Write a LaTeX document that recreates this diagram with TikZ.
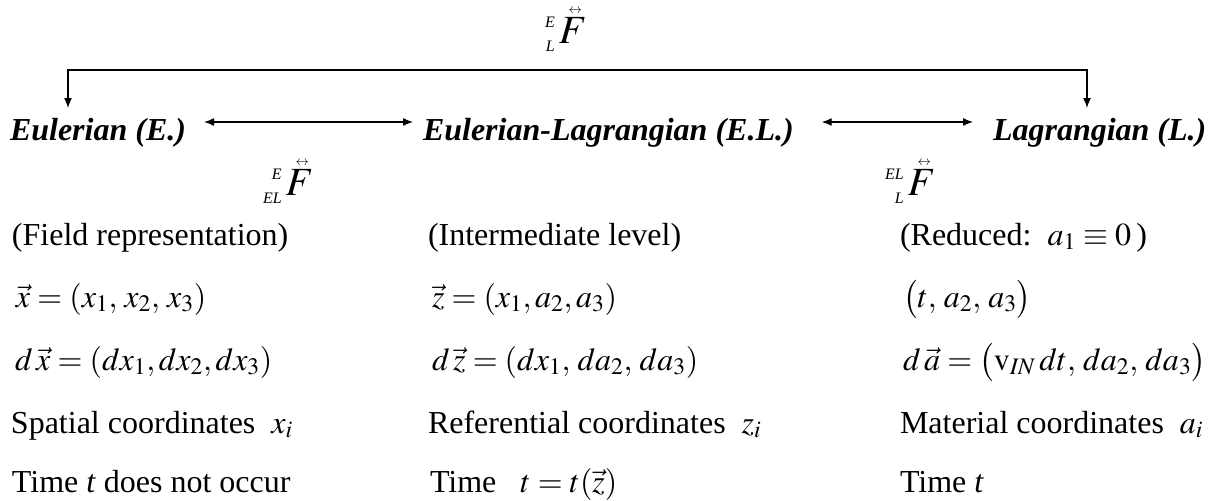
\documentclass[tikz,border=0pt]{standalone}
\usepackage{amsmath}
\usepackage{mathptmx}
\usepackage{fontspec}
\setmainfont{Liberation Serif}
\usetikzlibrary{arrows.meta,calc}
\newcommand\tenF[2]{\mbox{{\fontsize{12}{12}\selectfont\itshape
 \setbox0=\hbox{#1}\setbox2=\hbox{#2}%
 \ifdim\wd0<\wd2 \setbox0=\hbox to\wd2{\hss#1}\else\setbox2=\hbox to\wd0{\hss#2}\fi
 \rlap{\raise12pt\box0}\lower6pt\box2}\kern3pt{\fontsize{30}{32}\selectfont
 \setbox4=\hbox{$F$}%
 \rlap{\hbox to\wd4{\hss\kern4pt\raise\dimexpr\ht4+3pt\relax\hbox{\fontsize{10}{10}\selectfont$\leftrightarrow$}\hss}}\box4}}}
\begin{document}
\begin{tikzpicture}[x=0.75pt,y=-0.75pt,
  every node/.style={inner sep=0pt,outer sep=0pt,font=\fontsize{24}{28}\selectfont},
  txt/.style={anchor=base west},
  hdr/.style={anchor=base west,font=\fontsize{24}{28}\selectfont\bfseries\itshape},
  lbl/.style={anchor=base west},
  link/.style={line width=1pt,{Latex[length=7.5pt,width=6pt]}-{Latex[length=7.5pt,width=6pt]}}]
\useasboundingbox (0,0) rectangle (1216,500);
% headers
\node[hdr] (eul) at (10,140) {Eulerian (E.)};
\node[hdr] (el) at (423,140) {Eulerian-Lagrangian (E.L.)};
\node[hdr] (lag) at (993,140) {Lagrangian (L.)};
% tensor labels
\node[lbl] (fEL) at (545,43) {\tenF{E}{L}};
\node[lbl] (fEEL) at (263,195) {\tenF{E}{EL}};
\node[lbl] (fELL) at (885,195) {\tenF{EL}{L}};
% connectors
\coordinate (tipE) at (68,108);
\coordinate (cE) at (68,70);
\coordinate (cL) at (1087,70);
\coordinate (tipL) at (1087,108);
\draw[link] (tipE) -- (cE) -- (cL) -- (tipL);
\draw[link] ($(eul.base east)+(18,-18)$) -- ($(el.base west)+(-10,-18)$);
\draw[link] ($(el.base east)+(28,-18)$) -- ($(lag.base west)+(-20,-18)$);
% column 1
\node[txt] (a1) at (12,245) {(Field representation)};
\node[txt] (a2) at (16,307) {$\vec{x} = (x_1,\, x_2,\, x_3)$};
\node[txt] (a3) at (15,370) {$d\,\vec{x} = (dx_1, dx_2, dx_3)$};
\node[txt] (a4) at (11,433) {Spatial coordinates\ \ $x_i$};
\node[txt] (a5) at (12,492) {Time \textit{t} does not occur};
% column 2
\node[txt] (b1) at (428,245) {(Intermediate level)};
\node[txt] (b2) at (432,307) {$\vec{z} = (x_1, a_2, a_3)$};
\node[txt] (b3) at (432,370) {$d\,\vec{z} = (dx_1,\, da_2,\, da_3)$};
\node[txt] (b4) at (428,433) {Referential coordinates\ \ $z_i$};
\node[txt] (b5) at (430,492) {Time\ \ \ $t = t(\vec{z})$};
% column 3
\node[txt] (c1) at (900,245) {(Reduced:\ \ $a_1 \equiv 0$\,)};
\node[txt] (c2) at (903,307) {$\bigl(t,\, a_2,\, a_3\bigr)$};
\node[txt] (c3) at (903,370) {$d\,\vec{a} = \bigl(\mathrm{v}_{\mathit{IN}}\, dt,\, da_2,\, da_3\bigr)$};
\node[txt] (c4) at (900,433) {Material coordinates\ \ $a_i$};
\node[txt] (c5) at (900,492) {Time \textit{t}};
\end{tikzpicture}
\end{document}
